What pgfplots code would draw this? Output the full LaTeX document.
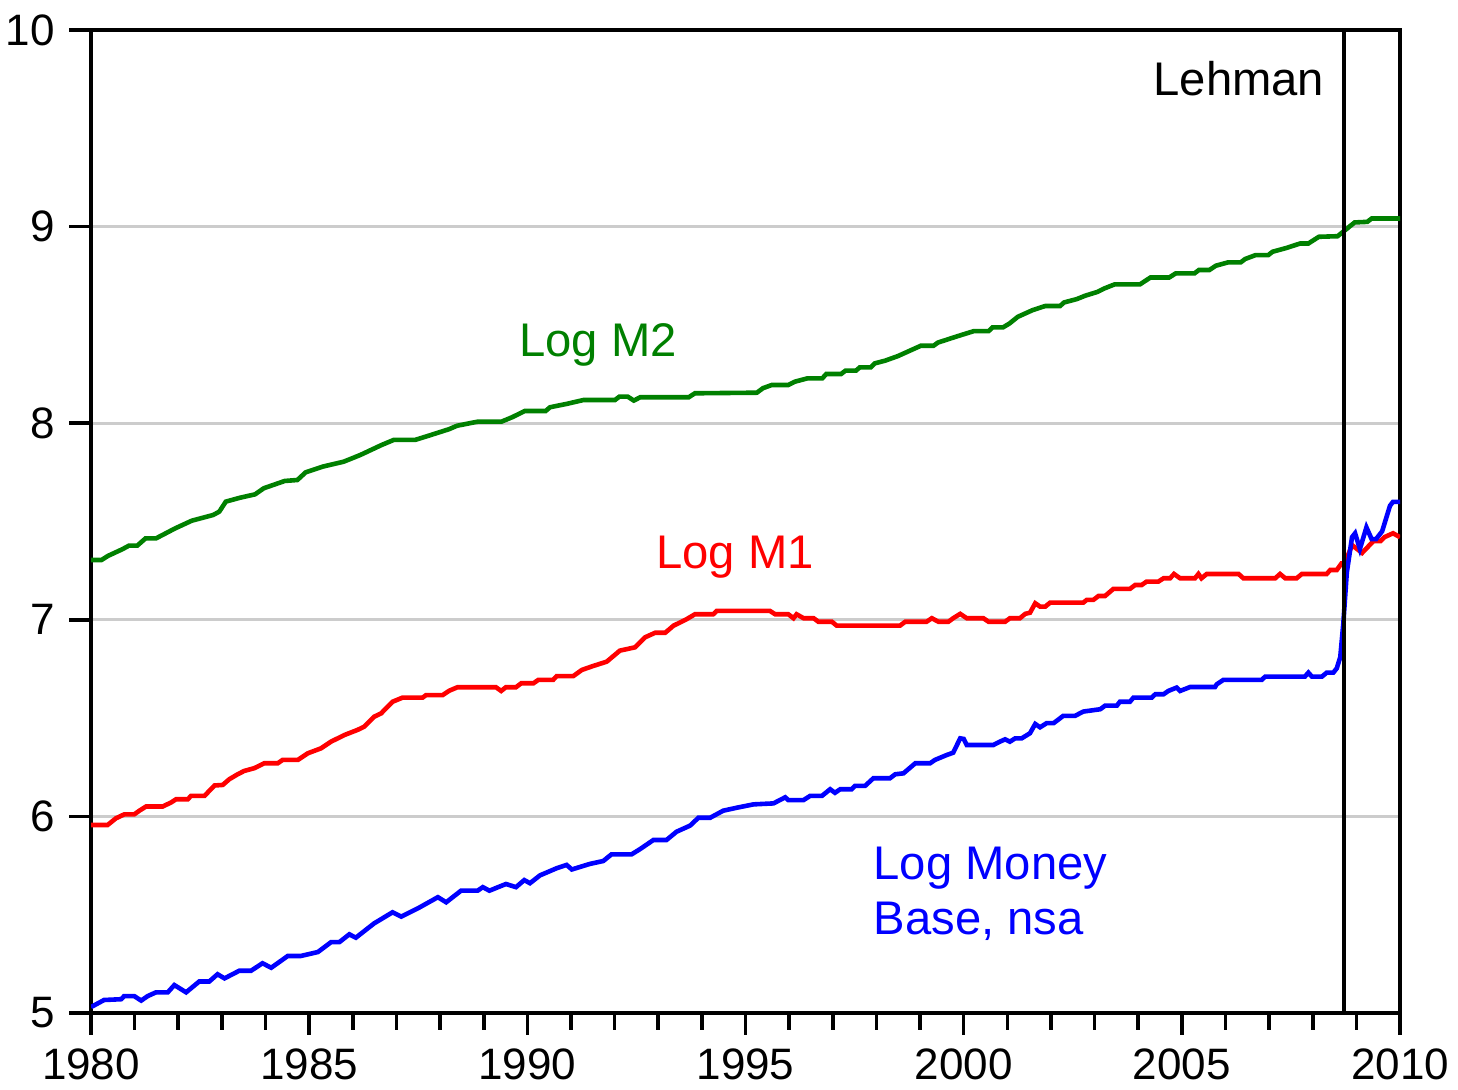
\documentclass[border=0pt]{standalone}
\usepackage{pgfplots}
\pgfplotsset{compat=1.18}
\usepackage{fontspec}
\setmainfont{Liberation Sans}
\definecolor{mgreen}{RGB}{0,128,0}
\definecolor{gridgray}{RGB}{204,204,204}
\begin{document}
\begin{tikzpicture}
\begin{axis}[
 scale only axis, width=327.25pt, height=245.75pt,
 xmin=1980, xmax=2010, ymin=5, ymax=10,
 xtick={1980,1985,...,2010}, minor x tick num=4,
 ytick={5,6,...,10},
 tick align=outside, xtick pos=bottom, ytick pos=left,
 major tick length=5.5pt, minor tick length=4.2pt,
 ymajorgrids, grid style={gridgray, line width=0.75pt},
 axis line style={line width=1pt},
 every tick/.style={black, line width=0.9pt},
 /pgf/number format/assume math mode=true,
 x tick label style={/pgf/number format/1000 sep={}},
 tick label style={font=\fontsize{11}{13}\selectfont},
]
\addplot[mgreen, line width=1.15pt] coordinates {(1980.0,7.304) (1980.24,7.304) (1980.39,7.325) (1980.72,7.359) (1980.87,7.377) (1981.06,7.377) (1981.25,7.414) (1981.49,7.414) (1981.93,7.465) (1982.31,7.504) (1982.80,7.533) (1982.94,7.55) (1983.09,7.601) (1983.42,7.621) (1983.76,7.638) (1983.96,7.669) (1984.44,7.706) (1984.73,7.711) (1984.92,7.75) (1985.31,7.779) (1985.79,7.804) (1986.17,7.838) (1986.66,7.889) (1986.94,7.915) (1987.43,7.915) (1987.72,7.935) (1988.20,7.969) (1988.39,7.987) (1988.87,8.008) (1989.41,8.008) (1989.65,8.03) (1989.94,8.062) (1990.42,8.062) (1990.52,8.081) (1990.90,8.098) (1991.29,8.118) (1992.01,8.118) (1992.11,8.135) (1992.30,8.135) (1992.44,8.115) (1992.59,8.132) (1993.70,8.132) (1993.84,8.152) (1995.26,8.155) (1995.40,8.178) (1995.60,8.194) (1995.98,8.194) (1996.13,8.211) (1996.42,8.228) (1996.76,8.228) (1996.85,8.25) (1997.19,8.25) (1997.29,8.267) (1997.53,8.267) (1997.62,8.284) (1997.87,8.284) (1997.96,8.304) (1998.20,8.318) (1998.49,8.341) (1998.68,8.36) (1998.83,8.375) (1999.02,8.394) (1999.31,8.394) (1999.41,8.41) (1999.70,8.431) (1999.94,8.448) (2000.23,8.468) (2000.57,8.468) (2000.66,8.487) (2000.90,8.487) (2001.05,8.507) (2001.24,8.541) (2001.58,8.575) (2001.87,8.596) (2002.21,8.596) (2002.30,8.614) (2002.59,8.631) (2002.78,8.648) (2003.07,8.668) (2003.22,8.685) (2003.46,8.706) (2004.04,8.706) (2004.28,8.741) (2004.71,8.741) (2004.86,8.762) (2005.29,8.762) (2005.39,8.779) (2005.63,8.779) (2005.78,8.801) (2006.06,8.818) (2006.35,8.818) (2006.45,8.835) (2006.69,8.855) (2006.98,8.855) (2007.08,8.872) (2007.41,8.892) (2007.71,8.914) (2007.90,8.914) (2008.14,8.948) (2008.57,8.951) (2008.77,8.987) (2008.96,9.021) (2009.25,9.024) (2009.35,9.041) (2010.0,9.041)};
\addplot[red, line width=1.15pt] coordinates {(1980.0,5.956) (1980.38,5.956) (1980.57,5.99) (1980.76,6.01) (1980.99,6.01) (1981.11,6.029) (1981.26,6.05) (1981.64,6.05) (1981.83,6.07) (1981.95,6.087) (1982.22,6.087) (1982.29,6.104) (1982.60,6.104) (1982.83,6.157) (1983.02,6.16) (1983.17,6.189) (1983.36,6.214) (1983.51,6.231) (1983.74,6.245) (1983.97,6.27) (1984.28,6.27) (1984.39,6.287) (1984.74,6.287) (1984.97,6.321) (1985.27,6.346) (1985.50,6.38) (1985.81,6.414) (1986.11,6.44) (1986.26,6.456) (1986.49,6.507) (1986.65,6.524) (1986.91,6.583) (1987.14,6.604) (1987.60,6.604) (1987.68,6.617) (1988.06,6.617) (1988.21,6.639) (1988.40,6.657) (1989.28,6.657) (1989.40,6.638) (1989.51,6.657) (1989.74,6.657) (1989.86,6.677) (1990.14,6.677) (1990.25,6.694) (1990.59,6.694) (1990.67,6.713) (1991.05,6.713) (1991.25,6.745) (1991.51,6.765) (1991.82,6.787) (1992.12,6.843) (1992.47,6.86) (1992.70,6.911) (1992.93,6.934) (1993.16,6.934) (1993.35,6.97) (1993.65,7.003) (1993.84,7.028) (1994.26,7.028) (1994.34,7.045) (1995.56,7.045) (1995.68,7.028) (1995.98,7.028) (1996.10,7.008) (1996.17,7.028) (1996.33,7.008) (1996.56,7.008) (1996.67,6.99) (1996.98,6.99) (1997.09,6.97) (1998.54,6.97) (1998.66,6.99) (1999.15,6.99) (1999.27,7.008) (1999.42,6.99) (1999.65,6.99) (1999.76,7.008) (1999.92,7.03) (2000.07,7.008) (2000.45,7.008) (2000.57,6.99) (2000.95,6.99) (2001.06,7.008) (2001.29,7.008) (2001.41,7.03) (2001.52,7.036) (2001.64,7.084) (2001.75,7.067) (2001.87,7.067) (2001.98,7.087) (2002.74,7.087) (2002.82,7.101) (2002.97,7.101) (2003.09,7.121) (2003.24,7.121) (2003.43,7.157) (2003.81,7.157) (2003.93,7.177) (2004.08,7.177) (2004.19,7.194) (2004.46,7.194) (2004.58,7.211) (2004.73,7.211) (2004.82,7.233) (2004.96,7.211) (2005.30,7.211) (2005.38,7.233) (2005.45,7.211) (2005.57,7.233) (2006.30,7.233) (2006.41,7.211) (2007.14,7.211) (2007.25,7.233) (2007.37,7.211) (2007.63,7.211) (2007.75,7.233) (2008.32,7.233) (2008.40,7.253) (2008.55,7.253) (2008.66,7.287) (2008.74,7.29) (2008.90,7.38) (2009.13,7.34) (2009.39,7.40) (2009.55,7.40) (2009.64,7.42) (2009.84,7.44) (2010.0,7.42)};
\addplot[blue, line width=1.15pt] coordinates {(1980.0,5.03) (1980.30,5.066) (1980.69,5.07) (1980.76,5.086) (1980.99,5.086) (1981.15,5.063) (1981.30,5.086) (1981.49,5.105) (1981.76,5.105) (1981.91,5.142) (1982.18,5.105) (1982.48,5.16) (1982.71,5.16) (1982.90,5.197) (1983.06,5.176) (1983.40,5.215) (1983.67,5.215) (1983.93,5.253) (1984.13,5.23) (1984.51,5.29) (1984.81,5.29) (1985.20,5.31) (1985.50,5.36) (1985.69,5.36) (1985.92,5.40) (1986.07,5.383) (1986.49,5.456) (1986.91,5.512) (1987.11,5.49) (1987.49,5.532) (1987.95,5.589) (1988.14,5.563) (1988.48,5.622) (1988.86,5.622) (1988.98,5.64) (1989.13,5.622) (1989.51,5.656) (1989.74,5.64) (1989.93,5.676) (1990.06,5.66) (1990.29,5.70) (1990.67,5.736) (1990.90,5.753) (1991.02,5.73) (1991.43,5.758) (1991.74,5.773) (1991.93,5.807) (1992.39,5.807) (1992.58,5.833) (1992.89,5.88) (1993.19,5.88) (1993.42,5.922) (1993.73,5.953) (1993.92,5.993) (1994.19,5.993) (1994.49,6.029) (1994.80,6.044) (1995.18,6.061) (1995.64,6.066) (1995.91,6.097) (1995.98,6.083) (1996.33,6.083) (1996.48,6.104) (1996.75,6.104) (1996.94,6.138) (1997.05,6.12) (1997.17,6.138) (1997.43,6.138) (1997.51,6.155) (1997.74,6.155) (1997.93,6.194) (1998.31,6.194) (1998.43,6.214) (1998.62,6.219) (1998.89,6.27) (1999.23,6.27) (1999.34,6.287) (1999.61,6.312) (1999.76,6.324) (1999.92,6.397) (2000.0,6.394) (2000.07,6.363) (2000.68,6.363) (2000.83,6.38) (2000.95,6.392) (2001.06,6.38) (2001.18,6.397) (2001.33,6.397) (2001.52,6.423) (2001.64,6.47) (2001.75,6.453) (2001.90,6.474) (2002.06,6.474) (2002.28,6.511) (2002.55,6.511) (2002.74,6.533) (2003.13,6.545) (2003.24,6.563) (2003.51,6.563) (2003.58,6.583) (2003.81,6.583) (2003.89,6.604) (2004.31,6.604) (2004.39,6.621) (2004.58,6.621) (2004.69,6.638) (2004.88,6.655) (2004.96,6.638) (2005.19,6.658) (2005.76,6.658) (2005.80,6.672) (2005.95,6.694) (2006.83,6.694) (2006.91,6.711) (2007.82,6.711) (2007.90,6.731) (2007.98,6.711) (2008.21,6.711) (2008.32,6.731) (2008.47,6.731) (2008.55,6.753) (2008.63,6.81) (2008.70,6.98) (2008.78,7.24) (2008.90,7.42) (2008.97,7.44) (2009.08,7.36) (2009.23,7.47) (2009.35,7.41) (2009.45,7.41) (2009.59,7.45) (2009.77,7.58) (2009.84,7.60) (2010.0,7.60)};
\addplot[black, line width=0.9pt] coordinates {(2008.72,5) (2008.72,10)};
\node[anchor=base, text=mgreen, font=\fontsize{11.8}{14}\selectfont] at (axis cs:1991.62,8.337) {Log M2};
\node[anchor=base, text=red, font=\fontsize{11.8}{14}\selectfont] at (axis cs:1994.76,7.263) {Log M1};
\node[anchor=base west, inner xsep=0pt, text=blue, font=\fontsize{11.8}{14}\selectfont] at (axis cs:1997.92,5.68) {Log Money};
\node[anchor=base west, inner xsep=0pt, text=blue, font=\fontsize{11.8}{14}\selectfont] at (axis cs:1997.92,5.397) {Base, nsa};
\node[anchor=base east, inner xsep=0pt, text=black, font=\fontsize{11.8}{14}\selectfont] at (axis cs:2008.28,9.669) {Lehman};
\end{axis}
\pgfresetboundingbox
\path[use as bounding box] ([xshift=-22.75pt,yshift=-19.25pt]current axis.south west) rectangle ([xshift=14.5pt,yshift=7.5pt]current axis.north east);
\end{tikzpicture}
\end{document}
